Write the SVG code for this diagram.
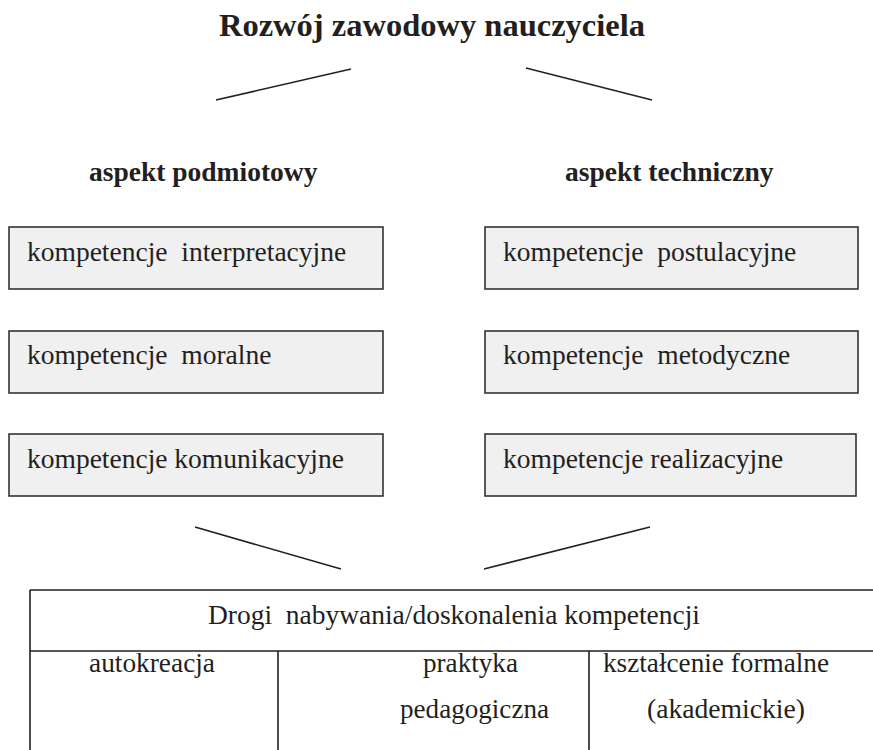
<svg xmlns="http://www.w3.org/2000/svg" width="873" height="750" viewBox="0 0 873 750" font-family="'Liberation Serif', 'DejaVu Serif', serif">
<style>
text{font-family:'Liberation Serif','DejaVu Serif',serif;fill:#231f20;white-space:pre}
.t{font-size:32.5px;font-weight:bold}
.h{font-size:27.5px;font-weight:bold}
.b{font-size:27.5px}
.box{fill:#f0f0f0;stroke:#333;stroke-width:1.6}
.ln{stroke:#231f20;stroke-width:1.6;fill:none}
</style>
<rect width="873" height="750" fill="#fff"/>
<g id="title"><text class="t" x="432" y="36" text-anchor="middle">Rozwój zawodowy nauczyciela</text></g>
<g id="aspekt-podmiotowy"><text class="h" x="89" y="181">aspekt podmiotowy</text></g>
<g id="aspekt-techniczny"><text class="h" x="565" y="181">aspekt techniczny</text></g>
<g id="k-interpretacyjne"><rect class="box" x="9" y="227" width="374" height="62"/><text class="b" x="27" y="261">kompetencje  interpretacyjne</text></g>
<g id="k-moralne"><rect class="box" x="9" y="331" width="374" height="62"/><text class="b" x="27" y="364">kompetencje  moralne</text></g>
<g id="k-komunikacyjne"><rect class="box" x="9" y="434" width="374" height="62"/><text class="b" x="27" y="468">kompetencje komunikacyjne</text></g>
<g id="k-postulacyjne"><rect class="box" x="485" y="227" width="373" height="62"/><text class="b" x="503" y="261">kompetencje  postulacyjne</text></g>
<g id="k-metodyczne"><rect class="box" x="485" y="331" width="373" height="62"/><text class="b" x="503" y="364">kompetencje  metodyczne</text></g>
<g id="k-realizacyjne"><rect class="box" x="485" y="434" width="371" height="62"/><text class="b" x="503" y="468">kompetencje realizacyjne</text></g>
<g id="connectors">
<line class="ln" x1="216" y1="100" x2="351" y2="69"/>
<line class="ln" x1="526" y1="68" x2="652" y2="100"/>
<line class="ln" x1="195" y1="527" x2="341" y2="569"/>
<line class="ln" x1="484" y1="569" x2="650" y2="527"/>
</g>
<g id="table">
<path class="ln" d="M30 590 H880 M30 651 H880 M30 590 V760 M278 651 V760 M589 651 V760"/>
<text class="b" x="208" y="624" textLength="492" lengthAdjust="spacingAndGlyphs">Drogi  nabywania/doskonalenia kompetencji</text>
<text class="b" x="89" y="672" textLength="126" lengthAdjust="spacingAndGlyphs">autokreacja</text>
<text class="b" x="423" y="672" textLength="95" lengthAdjust="spacingAndGlyphs">praktyka</text>
<text class="b" x="400" y="718" textLength="149" lengthAdjust="spacingAndGlyphs">pedagogiczna</text>
<text class="b" x="603" y="672" textLength="226" lengthAdjust="spacingAndGlyphs">kształcenie formalne</text>
<text class="b" x="647" y="718" textLength="158" lengthAdjust="spacingAndGlyphs">(akademickie)</text>
</g>
</svg>
